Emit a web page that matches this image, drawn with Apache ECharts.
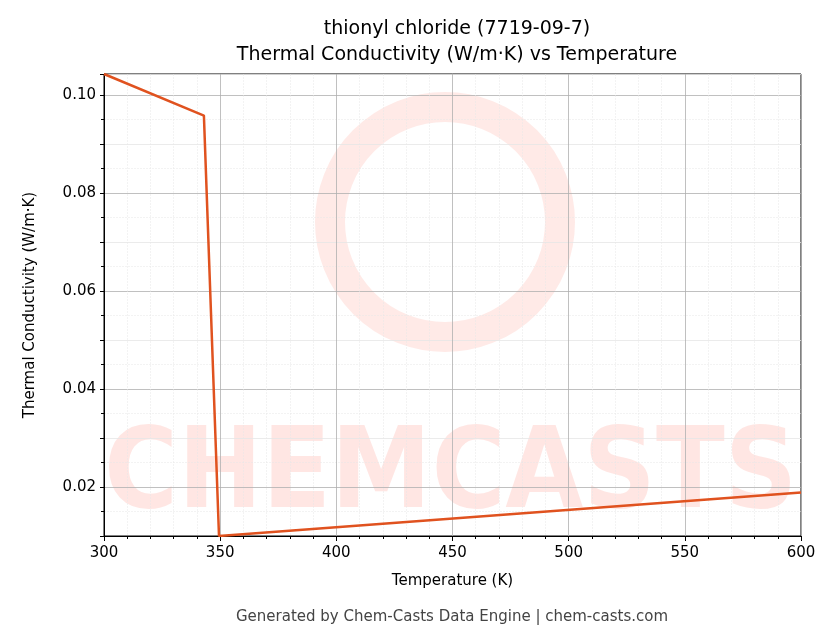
<!DOCTYPE html>
<html>
<head>
<meta charset="utf-8">
<script src="https://cdn.jsdelivr.net/npm/echarts@6/dist/echarts.min.js"></script>
<style>html,body{margin:0;padding:0;background:#fff}#chart{width:836px;height:644px}</style>
</head>
<body>
<div id="chart"></div>
<script>
// 数据
const temps = [300, 343, 349.5, 600];
const conductivity = [0.1043, 0.0958, 0.0100, 0.0189];
const xTicks = [300, 350, 400, 450, 500, 550, 600];

const chart = echarts.init(document.getElementById('chart'));
const font = 'DejaVu Sans';

const option = {
    animation: false,
    graphic: [
        {
            type: 'text', left: 104, top: 422, z: 0,
            style: { text: 'CHEMCASTS', font: 'bold 112px "DejaVu Sans Condensed"', fill: 'rgba(255,90,70,0.15)' }
        },
        {
            type: 'circle', shape: { cx: 445, cy: 222, r: 115 }, z: 0,
            style: { fill: 'none', stroke: 'rgba(255,90,70,0.13)', lineWidth: 30 }
        },
        {
            type: 'text', x: 452, y: 610, z: 10,
            style: { text: 'Generated by Chem-Casts Data Engine | chem-casts.com', font: '15px "DejaVu Sans"', fill: '#444', textAlign: 'center' }
        }
    ],
    title: {
        text: 'thionyl chloride (7719-09-7)\nThermal Conductivity (W/m·K) vs Temperature',
        left: 452, top: 11, textAlign: 'center',
        textStyle: { fontFamily: font, fontSize: 19, fontWeight: 'normal', color: '#000', lineHeight: 26 }
    },
    grid: { left: 104, right: 35, top: 74, bottom: 108, show: true, borderColor: '#000', borderWidth: 1 },
    xAxis: {
        type: 'value', min: 300, max: 600, interval: 50,
        name: 'Temperature (K)', nameLocation: 'middle', nameGap: 38,
        nameTextStyle: { fontFamily: font, fontSize: 15, color: '#000' },
        axisLine: { lineStyle: { color: '#000' } },
        axisTick: { show: true, length: 5, lineStyle: { color: '#000' } },
        minorTick: { show: true, splitNumber: 5, length: 3, lineStyle: { color: '#000' } },
        axisLabel: { fontFamily: font, fontSize: 15, color: '#000', margin: 10,
            formatter: v => xTicks.includes(v) ? String(v) : '' },
        splitLine: { show: true, lineStyle: { color: '#b0b0b0', width: 0.8 } },
        minorSplitLine: { show: true, lineStyle: { color: '#e6e6e6', width: 0.5, type: 'dashed' } }
    },
    yAxis: {
        type: 'value', min: 0.01, max: 0.1043, interval: 0.01,
        name: 'Thermal Conductivity (W/m·K)', nameLocation: 'middle', nameGap: 66,
        nameTextStyle: { fontFamily: font, fontSize: 15, color: '#000' },
        axisLine: { show: true, lineStyle: { color: '#000' } },
        axisTick: { show: true, length: 4, lineStyle: { color: '#000' } },
        minorTick: { show: true, splitNumber: 2, length: 3, lineStyle: { color: '#000' } },
        axisLabel: { fontFamily: font, fontSize: 15, color: '#000',
            formatter: v => {
                const r = Math.round(v * 100);
                if (r % 2 !== 0 || v > 0.104) return '';
                return v.toFixed(2);
            } },
        // 0.01 起步：奇数线为次网格，偶数线为主网格
        splitLine: { show: true, lineStyle: { color: ['#e6e6e6', '#b0b0b0'], width: 0.8 } },
        minorSplitLine: { show: true, lineStyle: { color: '#e6e6e6', width: 0.5, type: 'dashed' } }
    },
    series: [{
        type: 'line',
        data: temps.map((t, i) => [t, conductivity[i]]),
        showSymbol: false,
        lineStyle: { color: '#e0521f', width: 2.5 },
        z: 5
    }]
};

chart.setOption(option);
window.addEventListener('resize', () => chart.resize());
</script>
</body>
</html>
